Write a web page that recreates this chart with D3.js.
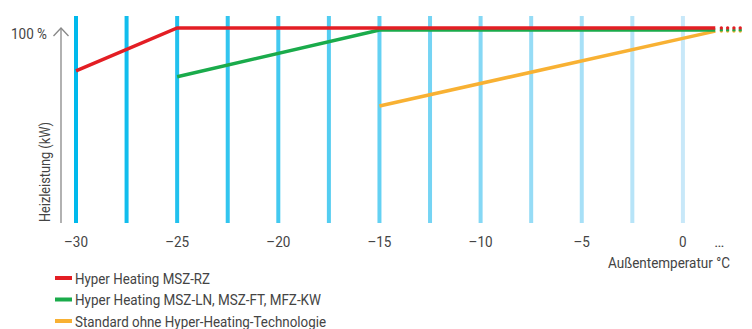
<!DOCTYPE html>
<html>
<head>
<meta charset="utf-8">
<script src="https://cdn.jsdelivr.net/npm/d3@7"></script>
<style>
  body { margin: 0; background: #fff; }
  text { font-family: "Roboto", "Liberation Sans", sans-serif; fill: #444; }
</style>
</head>
<body>
<script>
// Data
const gridTemps = [-30, -27.5, -25, -22.5, -20, -17.5, -15, -12.5, -10, -7.5, -5, -2.5, 0];
const tickTemps = [-30, -25, -20, -15, -10, -5, 0];
const tickLabels = ["–30", "–25", "–20", "–15", "–10", "–5", "0"];
const endTemp = 1.6;      // where the "…" sits
const dotsEnd = 3.0;

const redTemps = [-30, -25, endTemp];
const redValues = [78, 100, 100];
const greenTemps = [-25, -15, endTemp];
const greenValues = [75, 99, 99];
const yellowTemps = [-15, endTemp];
const yellowValues = [60, 98.4];

const seriesNames = [
  "Hyper Heating MSZ-RZ",
  "Hyper Heating MSZ-LN, MSZ-FT, MFZ-KW",
  "Standard ohne Hyper-Heating-Technologie"
];
const seriesColors = ["#e31e24", "#1aab4b", "#f8b133"];
const legendWidths = [135, 246, 251];

const w = 752;
const h = 329;

const svg = d3.select("body")
              .append("svg")
              .attr("width", w)
              .attr("height", h);

const xScale = d3.scaleLinear()
                 .domain([-30, dotsEnd])
                 .range([76, 743.6]);

const yScale = d3.scaleLinear()
                 .domain([0, 100])
                 .range([223, 28]);

// graded blue bars
const barColor = d3.scaleLinear()
                   .domain([-30, 0])
                   .range(["#00b9ec", "#c8e8f9"]);

svg.append("g")
   .selectAll("rect")
   .data(gridTemps)
   .enter()
   .append("rect")
   .attr("x", d => xScale(d) - 2)
   .attr("y", 16)
   .attr("width", 4)
   .attr("height", 223 - 16)
   .attr("fill", d => barColor(d));

// y axis with arrow
svg.append("line")
   .attr("x1", 61).attr("x2", 61)
   .attr("y1", yScale(100)).attr("y2", 223)
   .attr("stroke", "#888")
   .attr("stroke-width", 1.3);

svg.append("path")
   .attr("d", "M53.5," + (yScale(100) + 8) + " L61," + yScale(100) + " L68.5," + (yScale(100) + 8))
   .attr("fill", "none")
   .attr("stroke", "#888")
   .attr("stroke-width", 1.3);

svg.append("text")
   .attr("x", 47)
   .attr("y", yScale(100) + 10.5)
   .attr("text-anchor", "end")
   .attr("font-size", 15)
   .attr("textLength", 36)
   .attr("lengthAdjust", "spacingAndGlyphs")
   .text("100 %");

svg.append("text")
   .attr("transform", "translate(50, 172) rotate(-90)")
   .attr("text-anchor", "middle")
   .attr("font-size", 14.5)
   .attr("textLength", 100)
   .attr("lengthAdjust", "spacingAndGlyphs")
   .text("Heizleistung (kW)");

// lines
const line = d3.line()
               .x(d => xScale(d[0]))
               .y(d => yScale(d[1]));

const series = [
  d3.zip(redTemps, redValues),
  d3.zip(greenTemps, greenValues),
  d3.zip(yellowTemps, yellowValues)
];

// draw yellow first, red on top
[2, 1, 0].forEach(i => {
  svg.append("path")
     .datum(series[i])
     .attr("d", line)
     .attr("fill", "none")
     .attr("stroke", seriesColors[i])
     .attr("stroke-width", 3.5);

  // dotted continuation
  const last = series[i][series[i].length - 1];
  svg.append("line")
     .attr("x1", xScale(last[0]) + 6)
     .attr("x2", xScale(dotsEnd))
     .attr("y1", yScale(last[1]))
     .attr("y2", yScale(last[1]))
     .attr("stroke", seriesColors[i])
     .attr("stroke-width", 3.3)
     .attr("stroke-linecap", "round")
     .attr("stroke-dasharray", "0.1,6.2");
});

// x tick labels
svg.append("g")
   .selectAll("text")
   .data(tickTemps)
   .enter()
   .append("text")
   .attr("x", d => xScale(d))
   .attr("y", 247)
   .attr("text-anchor", "middle")
   .attr("font-size", 15)
   .attr("transform", d => "translate(" + xScale(d) + ",0) scale(0.9,1) translate(" + (-xScale(d)) + ",0)")
   .text((d, i) => tickLabels[i]);

svg.append("text")
   .attr("x", xScale(endTemp) + 4)
   .attr("y", 247)
   .attr("text-anchor", "middle")
   .attr("font-size", 15)
   .text("…");

svg.append("text")
   .attr("x", 730)
   .attr("y", 267.5)
   .attr("text-anchor", "end")
   .attr("font-size", 15)
   .attr("textLength", 122)
   .attr("lengthAdjust", "spacingAndGlyphs")
   .text("Außentemperatur °C");

// legend
const legend = svg.append("g");
seriesNames.forEach((name, i) => {
  const y = 278 + i * 21.5;
  legend.append("rect")
        .attr("x", 55)
        .attr("y", y - 2)
        .attr("width", 17)
        .attr("height", 4)
        .attr("fill", seriesColors[i]);
  legend.append("text")
        .attr("x", 75)
        .attr("y", y + 5.5)
        .attr("font-size", 15.5)
        .attr("textLength", legendWidths[i])
        .attr("lengthAdjust", "spacingAndGlyphs")
        .text(name);
});
</script>
</body>
</html>
